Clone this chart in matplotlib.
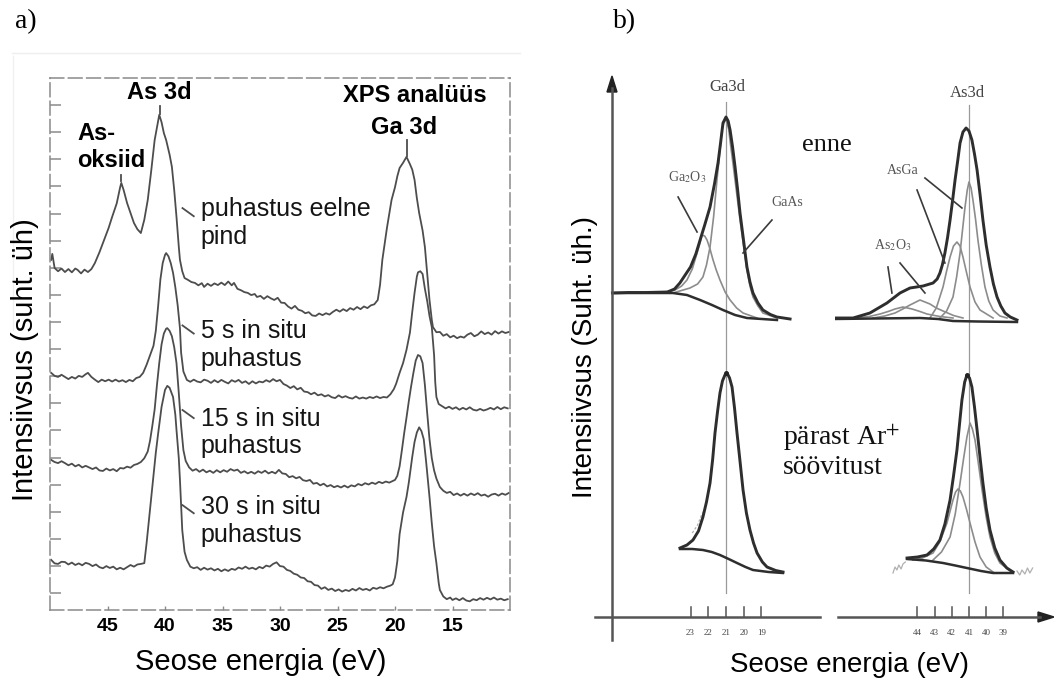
import matplotlib
matplotlib.use('Agg')
import matplotlib.pyplot as plt
from matplotlib.lines import Line2D

plt.rcParams['mathtext.fontset'] = 'stix'

W, H = 1054, 682
SANS = ['Liberation Sans', 'DejaVu Sans']
SERIF = ['Liberation Serif', 'DejaVu Serif']

# ---------------- panel a: XPS spectra, binding energy (eV) vs intensity (a.u.) ----------------
a_xticks = [45, 40, 35, 30, 25, 20, 15]
a_labels = ["puhastus eelne\npind", "5 s in situ\npuhastus", "15 s in situ\npuhastus", "30 s in situ\npuhastus"]

a_eelne = [(49.9, 129.2), (49.8, 131.4), (49.6, 126.2), (49.3, 125.0), (49.0, 126.0), (48.7, 124.7),
           (48.4, 125.8), (48.1, 124.6), (47.8, 126.0), (47.6, 125.5), (47.3, 124.2), (47.0, 125.6),
           (46.7, 124.7), (46.4, 125.8), (46.1, 128.0), (45.7, 132.0), (45.3, 136.5), (44.9, 141.0),
           (44.6, 145.0), (44.2, 150.0), (43.9, 156.0), (43.8, 157.6), (43.6, 155.0), (43.3, 150.2),
           (43.0, 146.5), (42.7, 142.8), (42.4, 140.5), (42.1, 139.1), (41.8, 144.0), (41.5, 151.3),
           (41.2, 162.0), (40.9, 173.4), (40.6, 180.5), (40.5, 182.7), (40.3, 180.0), (40.1, 176.0),
           (39.9, 173.4), (39.6, 168.0), (39.4, 163.5), (39.2, 155.0), (39.0, 145.0), (38.8, 134.0),
           (38.7, 129.2), (38.5, 125.0), (38.3, 122.5), (38.0, 121.8), (37.7, 121.0), (37.4, 120.7),
           (37.1, 119.8), (36.8, 120.6), (36.6, 119.2), (36.3, 120.4), (36.0, 119.6), (35.7, 120.5),
           (35.4, 119.9), (35.1, 120.8), (34.8, 119.9), (34.5, 121.2), (34.2, 119.8), (34.0, 120.7),
           (33.7, 118.5), (33.4, 118.0), (33.1, 117.3), (32.8, 117.0), (32.5, 116.2), (32.2, 116.6),
           (32.0, 115.5), (31.7, 115.9), (31.4, 114.8), (31.1, 115.8), (30.8, 115.0), (30.5, 114.4),
           (30.2, 115.2), (29.9, 113.4), (29.6, 113.3), (29.3, 112.0), (29.0, 111.2), (28.7, 112.2),
           (28.4, 110.8), (28.1, 110.4), (27.8, 109.5), (27.5, 109.9), (27.2, 108.7), (26.9, 108.5),
           (26.6, 109.4), (26.3, 108.8), (26.0, 109.5), (25.7, 109.0), (25.4, 110.0), (25.1, 110.8),
           (24.8, 110.1), (24.5, 111.0), (24.2, 110.3), (23.9, 111.4), (23.6, 110.8), (23.3, 111.8),
           (23.0, 111.0), (22.7, 112.0), (22.4, 111.4), (22.1, 112.4), (21.8, 112.8), (21.5, 114.4),
           (21.3, 120.0), (21.1, 129.2), (20.7, 141.0), (20.3, 151.3), (20.0, 156.0), (19.8, 160.0),
           (19.6, 163.1), (19.3, 165.0), (19.0, 167.2), (18.7, 164.5), (18.5, 162.5), (18.3, 158.7),
           (18.1, 152.0), (17.9, 146.5), (17.6, 140.0), (17.4, 133.9), (17.2, 124.0), (17.0, 114.4),
           (16.8, 107.0), (16.7, 104.4), (16.4, 102.5), (16.1, 102.6), (15.8, 101.2), (15.5, 101.8),
           (15.2, 100.6), (14.9, 101.2), (14.6, 100.3), (14.3, 100.9), (14.0, 100.5), (13.7, 101.6),
           (13.4, 102.2), (13.1, 101.0), (12.8, 101.6), (12.5, 102.8), (12.2, 101.8), (11.9, 102.4),
           (11.6, 101.6), (11.3, 102.9), (11.0, 102.0), (10.7, 102.8), (10.4, 102.2), (10.1, 102.6)]

a_5s = [(49.9, 87.5), (49.6, 86.4), (49.3, 86.0), (49.0, 86.8), (48.7, 86.0), (48.4, 85.2), (48.1, 86.0),
        (47.8, 85.4), (47.5, 86.4), (47.2, 86.0), (46.9, 87.0), (46.7, 87.5), (46.4, 86.0), (46.1, 85.0),
        (45.8, 84.1), (45.5, 85.0), (45.2, 84.4), (44.9, 85.0), (44.6, 84.3), (44.3, 85.0), (44.0, 84.3),
        (43.7, 84.8), (43.4, 84.1), (43.1, 84.9), (42.8, 84.4), (42.5, 85.6), (42.2, 86.0), (41.9, 87.5),
        (41.6, 90.5), (41.3, 94.0), (41.0, 97.5), (40.8, 103.0), (40.6, 112.0), (40.4, 122.0), (40.2, 128.0),
        (40.0, 131.0), (39.9, 131.7), (39.7, 130.5), (39.5, 128.0), (39.3, 124.4), (39.1, 119.0), (38.9, 112.5),
        (38.7, 104.0), (38.6, 95.0), (38.4, 88.0), (38.1, 84.9), (37.8, 84.2), (37.5, 85.0), (37.2, 84.3),
        (36.9, 84.0), (36.6, 85.0), (36.3, 84.6), (36.0, 83.8), (35.7, 84.8), (35.4, 84.0), (35.1, 84.9),
        (34.8, 84.2), (34.5, 83.6), (34.2, 84.8), (33.9, 84.2), (33.6, 84.9), (33.3, 83.8), (33.0, 84.4),
        (32.7, 83.4), (32.4, 84.4), (32.1, 83.6), (31.8, 84.3), (31.5, 84.0), (31.2, 84.8), (30.9, 84.2),
        (30.6, 85.2), (30.3, 84.4), (30.0, 84.9), (29.7, 83.4), (29.4, 82.8), (29.1, 81.9), (28.8, 82.6),
        (28.5, 81.4), (28.2, 82.0), (27.9, 80.6), (27.6, 80.4), (27.3, 79.6), (27.0, 80.2), (26.7, 79.2),
        (26.4, 79.6), (26.1, 78.8), (25.8, 79.3), (25.5, 78.5), (25.2, 78.2), (24.9, 79.2), (24.6, 78.4),
        (24.3, 78.9), (24.0, 78.3), (23.7, 78.0), (23.4, 78.8), (23.1, 78.0), (22.8, 78.4), (22.5, 78.0),
        (22.2, 78.6), (21.9, 78.2), (21.6, 78.8), (21.3, 78.2), (21.0, 78.6), (20.7, 78.4), (20.4, 79.6),
        (20.1, 81.5), (19.9, 83.5), (19.6, 87.5), (19.3, 91.1), (19.0, 96.0), (18.7, 102.4), (18.5, 110.0),
        (18.3, 117.0), (18.1, 123.0), (18.0, 124.6), (17.8, 125.0), (17.6, 124.0), (17.4, 118.5), (17.2, 114.0),
        (17.0, 108.5), (16.8, 104.4), (16.6, 94.0), (16.5, 84.0), (16.4, 78.6), (16.2, 76.0), (15.9, 75.2),
        (15.6, 74.4), (15.3, 75.0), (15.0, 74.2), (14.7, 74.8), (14.4, 73.9), (14.1, 74.6), (13.8, 74.0),
        (13.5, 74.8), (13.2, 73.9), (12.9, 73.6), (12.6, 74.2), (12.3, 73.6), (12.0, 74.0), (11.7, 74.6),
        (11.4, 74.0), (11.1, 74.9), (10.8, 74.1), (10.5, 74.8), (10.2, 74.4)]

a_15s = [(49.9, 55.4), (49.6, 54.6), (49.3, 54.2), (49.0, 54.9), (48.7, 54.2), (48.4, 53.4), (48.1, 54.0),
         (47.8, 53.0), (47.5, 53.6), (47.2, 52.6), (46.9, 53.2), (46.6, 52.6), (46.3, 52.0), (46.0, 52.6),
         (45.7, 51.5), (45.4, 51.3), (45.1, 52.2), (44.8, 51.5), (44.5, 52.0), (44.2, 51.2), (43.9, 52.4),
         (43.6, 52.2), (43.3, 52.9), (43.0, 52.5), (42.7, 53.5), (42.4, 53.9), (42.1, 54.6), (41.8, 56.0),
         (41.5, 58.5), (41.3, 62.5), (41.1, 68.0), (40.9, 74.0), (40.7, 83.0), (40.5, 91.1), (40.3, 98.0),
         (40.1, 102.0), (39.9, 103.8), (39.8, 104.0), (39.6, 103.0), (39.4, 101.0), (39.2, 97.0), (39.0, 91.1),
         (38.8, 80.0), (38.6, 68.0), (38.4, 59.0), (38.2, 55.0), (37.9, 52.6), (37.6, 51.4), (37.3, 52.0),
         (37.0, 51.0), (36.7, 51.8), (36.4, 50.8), (36.1, 51.4), (35.8, 50.6), (35.5, 51.6), (35.2, 50.8),
         (34.9, 51.6), (34.6, 51.0), (34.3, 52.0), (34.0, 51.4), (33.7, 51.8), (33.4, 50.6), (33.1, 51.2),
         (32.8, 50.4), (32.5, 51.0), (32.2, 50.3), (31.9, 51.2), (31.6, 50.6), (31.3, 51.4), (31.0, 50.4),
         (30.7, 51.0), (30.4, 50.4), (30.1, 51.7), (29.8, 50.4), (29.5, 50.2), (29.2, 49.0), (28.9, 49.4),
         (28.6, 48.6), (28.3, 49.1), (28.0, 47.9), (27.7, 47.6), (27.4, 48.0), (27.1, 46.6), (26.8, 46.9),
         (26.5, 46.0), (26.2, 46.6), (25.9, 45.6), (25.6, 46.1), (25.3, 45.3), (25.0, 45.8), (24.7, 45.2),
         (24.4, 45.9), (24.1, 45.2), (23.8, 46.0), (23.5, 45.6), (23.2, 46.5), (22.9, 46.0), (22.6, 46.8),
         (22.3, 46.3), (22.0, 47.0), (21.7, 46.5), (21.4, 47.3), (21.1, 46.8), (20.8, 47.4), (20.5, 47.0),
         (20.2, 47.6), (20.0, 48.0), (19.8, 49.5), (19.6, 53.0), (19.4, 59.0), (19.2, 65.3), (19.0, 71.0),
         (18.8, 77.0), (18.6, 82.5), (18.4, 87.5), (18.2, 92.0), (18.0, 94.1), (17.8, 93.6), (17.6, 91.1),
         (17.4, 83.0), (17.2, 72.7), (17.0, 63.0), (16.8, 56.0), (16.6, 51.5), (16.4, 48.5), (16.1, 45.4),
         (15.8, 44.0), (15.5, 43.2), (15.2, 43.6), (14.9, 42.4), (14.6, 43.0), (14.3, 42.2), (14.0, 42.9),
         (13.7, 42.2), (13.4, 43.0), (13.1, 42.4), (12.8, 43.1), (12.5, 42.2), (12.2, 42.6), (11.9, 41.8),
         (11.6, 42.6), (11.3, 42.9), (11.0, 42.2), (10.7, 43.0), (10.4, 42.5), (10.1, 43.2)]

a_30s = [(49.9, 18.5), (49.6, 17.2), (49.3, 17.0), (49.0, 17.8), (48.7, 17.7), (48.4, 16.8), (48.1, 17.5),
         (47.8, 16.6), (47.5, 17.2), (47.2, 16.5), (46.9, 17.4), (46.6, 17.0), (46.3, 16.2), (46.0, 16.8),
         (45.7, 15.8), (45.4, 15.4), (45.1, 16.2), (44.8, 15.5), (44.5, 16.0), (44.2, 15.0), (43.9, 15.6),
         (43.6, 15.0), (43.3, 15.8), (43.0, 16.6), (42.7, 16.0), (42.4, 16.8), (42.1, 17.0), (41.8, 17.3),
         (41.6, 24.7), (41.4, 33.0), (41.2, 41.7), (41.0, 50.0), (40.8, 58.0), (40.6, 65.0), (40.3, 74.9),
         (40.0, 81.2), (39.8, 82.7), (39.6, 82.0), (39.3, 78.6), (39.1, 72.0), (39.0, 66.4), (38.8, 56.0),
         (38.7, 48.0), (38.5, 29.5), (38.3, 21.5), (38.1, 18.5), (37.8, 16.0), (37.5, 15.4), (37.2, 15.8),
         (36.9, 14.8), (36.6, 15.6), (36.3, 14.9), (36.0, 15.4), (35.7, 14.6), (35.4, 15.2), (35.1, 14.3),
         (34.8, 15.0), (34.5, 14.4), (34.2, 15.2), (33.9, 14.8), (33.6, 15.7), (33.3, 15.2), (33.0, 16.0),
         (32.7, 15.2), (32.4, 15.6), (32.1, 15.0), (31.8, 15.9), (31.5, 15.4), (31.2, 16.4), (30.9, 16.0),
         (30.6, 17.0), (30.3, 17.6), (30.0, 16.2), (29.7, 16.0), (29.4, 14.8), (29.1, 14.4), (28.8, 13.4),
         (28.5, 13.0), (28.2, 12.0), (27.9, 11.8), (27.6, 10.6), (27.3, 10.4), (27.0, 9.2), (26.7, 9.0),
         (26.4, 7.8), (26.1, 8.4), (25.8, 7.4), (25.5, 7.9), (25.2, 7.0), (24.9, 7.6), (24.6, 6.8),
         (24.3, 7.4), (24.0, 7.0), (23.7, 7.8), (23.4, 7.2), (23.1, 8.1), (22.8, 7.4), (22.5, 7.8),
         (22.2, 7.2), (21.9, 8.2), (21.6, 7.8), (21.3, 8.4), (21.0, 8.0), (20.7, 8.6), (20.4, 9.0),
         (20.2, 9.5), (20.0, 12.0), (19.8, 18.0), (19.6, 28.0), (19.3, 36.0), (19.0, 41.7), (18.8, 47.0),
         (18.5, 56.5), (18.3, 62.0), (18.1, 65.5), (17.9, 67.4), (17.7, 66.0), (17.5, 63.0), (17.3, 55.0),
         (17.0, 41.7), (16.8, 32.0), (16.6, 23.5), (16.4, 17.3), (16.2, 10.0), (16.1, 7.4), (15.8, 5.0),
         (15.5, 4.0), (15.2, 4.6), (15.0, 3.7), (14.7, 4.3), (14.4, 3.6), (14.1, 4.4), (13.8, 3.5),
         (13.5, 3.2), (13.2, 4.0), (12.9, 3.6), (12.6, 4.4), (12.3, 3.8), (12.0, 4.5), (11.7, 3.9),
         (11.4, 4.6), (11.1, 3.8), (10.8, 4.2), (10.5, 3.6), (10.2, 4.0)]

# ---------------- panel b: fitted XPS peaks ----------------
b_ga_ticks = [23, 22, 21, 20, 19]
b_as_ticks = [44, 43, 42, 41, 40, 39]
b_ga_line = 21
b_as_line = 41

# "enne" (before) - Ga3d
ga_enne_env = [(27.4, 64.8), (26.5, 64.9), (25.5, 64.9), (24.3, 65.0), (23.9, 65.6), (23.6, 66.8), (23.3, 68.4),
               (23.0, 70.0), (22.7, 72.6), (22.46, 75.4), (22.2, 78.4), (21.9, 82.0), (21.65, 86.6), (21.45, 90.8),
               (21.3, 95.0), (21.17, 98.8), (21.0, 100.0), (20.88, 99.2), (20.77, 97.4), (20.63, 94.0), (20.49, 90.0),
               (20.35, 85.6), (20.21, 80.8), (20.0, 75.0), (19.82, 70.0), (19.65, 67.0), (19.48, 64.8), (19.2, 62.8),
               (18.92, 61.4), (18.5, 60.5), (18.13, 60.0), (17.39, 59.6)]
ga_enne_bg = [(27.25, 64.8), (25.0, 64.8), (23.99, 64.8), (23.2, 64.4), (22.46, 63.4), (21.79, 62.4), (21.17, 61.4),
              (20.49, 60.4), (19.82, 59.8), (18.13, 59.4)]
ga_enne_ga2o3 = [(24.72, 64.8), (23.87, 65.4), (23.5, 66.2), (23.2, 67.4), (22.9, 69.6), (22.63, 72.8), (22.45, 75.0),
                 (22.35, 76.4), (22.2, 76.2), (22.07, 75.4), (21.9, 73.6), (21.73, 71.4), (21.55, 69.4), (21.34, 67.4),
                 (21.05, 65.0), (20.77, 63.4), (20.4, 61.8), (20.04, 60.8), (19.25, 59.8)]
ga_enne_gaas = [(23.99, 64.8), (23.03, 65.8), (22.6, 66.6), (22.3, 68.0), (22.1, 70.4), (21.9, 74.0), (21.7, 80.0),
                (21.51, 87.4), (21.35, 93.0), (21.23, 97.4), (21.1, 99.2), (21.0, 99.4), (20.85, 97.6), (20.75, 94.6),
                (20.61, 90.8), (20.4, 84.8), (20.21, 79.4), (20.0, 74.0), (19.82, 69.4), (19.65, 66.2), (19.48, 64.0),
                (19.2, 62.2), (18.92, 60.8), (18.13, 59.8)]

# "enne" (before) - As3d
as_enne_env = [(48.91, 59.8), (47.74, 59.8), (46.76, 60.8), (45.77, 62.8), (45.01, 64.8), (44.43, 65.8), (43.67, 66.2),
               (43.09, 66.8), (42.85, 67.6), (42.69, 68.8), (42.55, 70.4), (42.40, 72.8), (42.25, 75.8), (42.10, 79.4),
               (41.95, 83.4), (41.81, 87.4), (41.65, 91.4), (41.52, 94.8), (41.35, 97.0), (41.17, 97.8), (41.0, 97.2),
               (40.83, 95.4), (40.68, 92.6), (40.53, 89.4), (40.36, 84.6), (40.19, 79.4), (40.0, 74.4), (39.78, 70.0),
               (39.58, 66.6), (39.37, 64.0), (39.15, 62.2), (38.91, 60.8), (38.6, 60.0), (38.21, 59.4)]
as_enne_bg = [(48.91, 59.6), (46.5, 59.7), (43.85, 59.8), (42.8, 59.6), (41.93, 59.2), (40.5, 59.1), (38.21, 59.0)]
as_enne_as2o3_a = [(47.74, 59.8), (46.8, 60.1), (46.17, 60.6), (45.7, 61.1), (45.30, 61.6), (44.84, 62.0), (44.31, 61.6),
                   (43.85, 61.1), (43.44, 60.6), (42.7, 60.1), (41.93, 59.8)]
as_enne_as2o3_b = [(46.58, 59.8), (45.9, 60.2), (45.30, 60.8), (44.85, 61.6), (44.43, 62.4), (43.85, 63.4), (43.27, 62.6),
                   (42.9, 61.8), (42.51, 61.2), (41.9, 60.3), (41.35, 59.8)]
as_enne_asga_s = [(43.27, 59.8), (42.9, 61.8), (42.51, 66.0), (42.30, 69.2), (42.10, 72.0), (41.9, 74.2), (41.70, 75.0),
                  (41.52, 74.2), (41.35, 72.0), (41.15, 69.0), (40.94, 66.0), (40.65, 63.0), (40.36, 61.4), (39.60, 59.8)]
as_enne_asga_b = [(42.69, 59.8), (42.3, 61.2), (41.93, 64.0), (41.72, 68.0), (41.52, 72.8), (41.37, 77.6), (41.23, 82.0),
                  (41.1, 85.4), (41.0, 87.0), (40.88, 85.8), (40.77, 83.4), (40.62, 79.6), (40.48, 75.4), (40.28, 70.4),
                  (40.07, 66.0), (39.85, 63.2), (39.60, 61.4), (39.2, 60.2), (38.79, 59.8)]
as_enne_raw = [(49.37, 60.2), (49.25, 59.4), (49.1, 60.6), (48.95, 59.8)]

# "pärast Ar+ söövitust" (after etching) - Ga3d
ga_after_env = [(23.59, 13.8), (23.2, 14.4), (22.86, 15.4), (22.55, 17.2), (22.30, 20.0), (22.1, 23.0), (21.90, 26.8),
                (21.75, 31.6), (21.62, 36.8), (21.48, 41.0), (21.34, 44.8), (21.2, 47.2), (21.06, 48.4), (20.94, 48.8),
                (20.8, 47.8), (20.66, 46.0), (20.52, 41.8), (20.38, 36.8), (20.2, 30.8), (20.04, 25.4), (19.85, 20.8),
                (19.65, 17.4), (19.45, 14.8), (19.25, 12.8), (18.95, 11.0), (18.69, 10.0), (18.2, 9.3), (17.79, 9.0)]
ga_after_bg = [(23.59, 13.6), (22.9, 13.6), (22.30, 13.4), (21.8, 13.0), (21.34, 12.4), (20.85, 11.6), (20.38, 10.8),
               (19.9, 10.0), (19.48, 9.4), (18.6, 9.0), (17.79, 8.8)]
ga_after_raw = [(22.9, 16.8), (22.75, 17.6), (22.6, 18.4), (22.4, 20.2), (22.25, 21.2)]

# "pärast Ar+ söövitust" (after etching) - As3d
as_after_env = [(44.60, 11.8), (44.0, 12.0), (43.44, 12.4), (43.05, 13.6), (42.69, 15.4), (42.4, 18.6), (42.10, 23.4),
                (41.90, 28.2), (41.70, 33.4), (41.55, 38.6), (41.41, 43.4), (41.25, 47.0), (41.12, 48.4), (40.97, 47.8),
                (40.83, 46.0), (40.68, 42.0), (40.53, 37.4), (40.36, 32.0), (40.19, 26.8), (40.0, 21.8), (39.78, 17.4),
                (39.5, 13.8), (39.20, 11.4), (38.8, 9.8), (38.44, 9.0)]
as_after_bg = [(44.60, 11.6), (43.5, 11.3), (42.51, 10.8), (41.8, 10.3), (41.12, 9.8), (40.3, 9.2), (39.60, 8.8),
               (38.44, 8.8)]
as_after_asga_b = [(43.09, 11.4), (42.6, 13.0), (42.10, 16.0), (41.8, 20.6), (41.52, 26.8), (41.3, 32.0), (41.12, 36.0),
                   (40.94, 38.8), (40.8, 37.6), (40.65, 35.4), (40.45, 30.6), (40.24, 25.4), (40.0, 20.0), (39.78, 16.0),
                   (39.5, 12.8), (39.20, 10.8), (38.44, 8.8)]
as_after_asga_s = [(44.26, 11.4), (43.7, 11.8), (43.09, 12.8), (42.7, 15.0), (42.28, 18.8), (41.93, 23.4), (41.78, 25.0),
                   (41.64, 25.6), (41.5, 25.2), (41.35, 24.0), (41.15, 21.6), (40.94, 18.8), (40.65, 15.0), (40.36, 12.0),
                   (40.0, 10.0), (39.60, 9.0)]
as_after_raw_l = [(45.42, 8.8), (45.3, 10.0), (45.19, 9.4), (45.08, 10.4), (44.95, 9.6), (44.84, 10.6), (44.70, 11.0)]
as_after_raw_r = [(38.21, 9.2), (38.05, 8.4), (37.92, 9.4), (37.75, 8.6), (37.6, 9.8), (37.46, 8.8), (37.3, 9.8)]


def xs(pts):
    return [p[0] for p in pts]


def ys(pts):
    return [p[1] for p in pts]


def fx(px):
    return px / W


def fy(py):
    return 1 - py / H


fig = plt.figure(figsize=(W / 100, H / 100), dpi=100)
fig.patch.set_facecolor('white')

# faint scan edges
fig.add_artist(Line2D([fx(12), fx(520)], [fy(53), fy(53)], color='#eeeeee', lw=1))
fig.add_artist(Line2D([fx(13), fx(13)], [fy(56), fy(330)], color='#f0f0f0', lw=1))

# ================= panel a =================
ax = fig.add_axes([fx(50), fy(610), fx(510) - fx(50), fy(78) - fy(610)])
ax.set_xlim(50, 10)
ax.set_ylim(0, 196.3)
curve_col = '#4d4d4d'
for pts in (a_eelne, a_5s, a_15s, a_30s):
    ax.plot(xs(pts), ys(pts), color=curve_col, lw=1.3, solid_joinstyle='round')

for side in ('top', 'right', 'bottom', 'left'):
    ax.spines[side].set_color('#8a8a8a')
    ax.spines[side].set_linewidth(1.1)
    ax.spines[side].set_linestyle((0, (9, 3)))
ax.set_xticks(a_xticks)
ax.set_xticklabels([str(t) for t in a_xticks], fontfamily=SANS, fontweight='bold', fontsize=14)
ax.set_yticks([6.27 + 10 * k for k in range(19)])
ax.set_yticklabels([])
ax.tick_params(axis='y', direction='in', length=8, width=1.1, color='#8a8a8a')
ax.tick_params(axis='x', direction='in', length=3, width=1.0, color='#8a8a8a', pad=6)

# small peak markers
ax.plot([43.8, 43.8], [158.3, 160.6], color=curve_col, lw=1.3)
ax.plot([40.45, 40.45], [183.0, 185.8], color=curve_col, lw=1.3)
ax.plot([19.0, 19.0], [167.5, 173.4], color=curve_col, lw=1.3)

# peak labels
ax.text(40.48, 191.1, "As 3d", fontfamily=SANS, fontweight='bold', fontsize=17, ha='center', va='center')
ax.text(18.3, 190.0, "XPS analüüs", fontfamily=SANS, fontweight='bold', fontsize=17, ha='center', va='center')
ax.text(19.17, 177.9, "Ga 3d", fontfamily=SANS, fontweight='bold', fontsize=17, ha='center', va='center')
ax.text(47.6, 170.8, "As-\noksiid", fontfamily=SANS, fontweight='bold', fontsize=17, ha='left', va='center',
        linespacing=1.25)

# curve labels with leader lines
label_pos = [(148.3, 142.8), (105.0, 97.8), (73.8, 65.5), (38.7, 32.8)]
for txt, (ly, ty) in zip(a_labels, label_pos):
    ax.plot([38.48, 37.5], [ly, ly - 3.0], color=curve_col, lw=1.3)
    ax.text(36.9, ty, txt, fontfamily=SANS, fontsize=18, ha='left', va='center', linespacing=1.2, color='#151515')

fig.text(fx(261), fy(662), "Seose energia (eV)", fontfamily=SANS, fontsize=21, ha='center', va='center')
fig.text(fx(25), fy(360), "Intensiivsus (suht. üh)", fontfamily=SANS, fontsize=21, ha='center', va='center',
         rotation=90)
fig.text(fx(26), fy(22), "a)", fontfamily=SERIF, fontsize=20, ha='center', va='center')
fig.text(fx(625), fy(22), "b)", fontfamily=SERIF, fontsize=20, ha='center', va='center')

# ================= panel b =================
YB = (-5.6, 109.4)
axg = fig.add_axes([fx(600), fy(645), fx(830) - fx(600), fy(70) - fy(645)])
axa = fig.add_axes([fx(835), fy(645), fx(1050) - fx(835), fy(70) - fy(645)])
axg.set_xlim(28.1, 15.14)
axa.set_xlim(48.79, 36.29)
for a in (axg, axa):
    a.set_ylim(*YB)
    a.axis('off')

env_col, env_lw = '#2e2e2e', 2.1
comp_col, comp_lw = '#8c8c8c', 1.2
ref_col = '#9a9a9a'

# reference lines
axg.plot([b_ga_line, b_ga_line], [4.8, 103.0], color=ref_col, lw=0.9)
axa.plot([b_as_line, b_as_line], [4.8, 102.4], color=ref_col, lw=0.9)

# components and envelopes
for pts in (ga_enne_ga2o3, ga_enne_gaas):
    axg.plot(xs(pts), ys(pts), color=comp_col, lw=comp_lw)
for pts in (as_enne_as2o3_a, as_enne_as2o3_b, as_enne_asga_s, as_enne_asga_b, as_after_asga_b, as_after_asga_s):
    axa.plot(xs(pts), ys(pts), color=comp_col, lw=comp_lw)
for pts in (as_enne_raw, as_after_raw_l, as_after_raw_r):
    axa.plot(xs(pts), ys(pts), color='#b0b0b0', lw=0.9)
axg.plot(xs(ga_after_raw), ys(ga_after_raw), color='#b0b0b0', lw=0.9, ls=(0, (2, 1.5)))
for pts in (ga_enne_bg, ga_after_bg):
    axg.plot(xs(pts), ys(pts), color=env_col, lw=1.8)
for pts in (as_enne_bg, as_after_bg):
    axa.plot(xs(pts), ys(pts), color=env_col, lw=1.8)
for pts in (ga_enne_env, ga_after_env):
    axg.plot(xs(pts), ys(pts), color=env_col, lw=env_lw, solid_joinstyle='round')
for pts in (as_enne_env, as_after_env):
    axa.plot(xs(pts), ys(pts), color=env_col, lw=env_lw, solid_joinstyle='round')

# peak dots
axg.plot([21.0], [48.9], 'o', color='#222222', ms=2.5)
axa.plot([41.12], [48.5], 'o', color='#222222', ms=2.5)

# ticks on energy axis
tick_col = '#555555'
for t in b_ga_ticks:
    axg.plot([t, t], [0, 2.0], color=tick_col, lw=1.1)
    axg.text(t, -3.2, str(t), fontfamily=SERIF, fontsize=6.5, ha='center', va='center', color='#444444')
for t in b_as_ticks:
    axa.plot([t, t], [0, 2.0], color=tick_col, lw=1.1)
    axa.text(t, -3.2, str(t), fontfamily=SERIF, fontsize=6.5, ha='center', va='center', color='#444444')

# component labels and leaders
lab_kw = dict(fontfamily=SERIF, fontsize=10, ha='center', va='center', color='#555555')
axg.text(23.2, 88.0, "Ga$_2$O$_3$", **lab_kw)
axg.plot([23.70, 22.63], [84.0, 77.0], color='#3a3a3a', lw=1.2)
axg.text(17.56, 82.8, "GaAs", **lab_kw)
axg.plot([18.41, 20.04], [79.4, 72.8], color='#3a3a3a', lw=1.2)
axa.text(44.84, 89.4, "AsGa", **lab_kw)
axa.plot([44.02, 42.40], [85.4, 70.8], color='#3a3a3a', lw=1.2)
axa.plot([43.56, 41.41], [87.8, 81.8], color='#3a3a3a', lw=1.2)
axa.text(45.42, 74.4, "As$_2$O$_3$", **lab_kw)
axa.plot([45.71, 45.48], [70.0, 64.8], color='#3a3a3a', lw=1.2)
axa.plot([45.01, 43.56], [70.8, 64.8], color='#3a3a3a', lw=1.2)
axg.text(20.94, 106.0, "Ga3d", fontfamily=SERIF, fontsize=12, ha='center', va='center', color='#444444')
axa.text(41.12, 104.8, "As3d", fontfamily=SERIF, fontsize=12, ha='center', va='center', color='#444444')

fig.text(fx(827), fy(145), "enne", fontfamily=SERIF, fontsize=19, ha='center', va='center', color='#111111')
fig.text(fx(783), fy(451), "pärast Ar$^{+}$\nsöövitust", fontfamily=SERIF, fontsize=20, ha='left', va='center',
         linespacing=1.15, color='#111111')

# axis lines / arrows of panel b
axis_col = '#555555'
fig.add_artist(Line2D([fx(595), fx(820)], [fy(617), fy(617)], color=axis_col, lw=1.8))
fig.add_artist(Line2D([fx(838), fx(1040)], [fy(617), fy(617)], color=axis_col, lw=1.8))
fig.add_artist(Line2D([fx(612), fx(612)], [fy(640), fy(88)], color=axis_col, lw=1.8))
fig.patches.append(plt.Polygon([[fx(1054), fy(617)], [fx(1038), fy(612)], [fx(1038), fy(622)]],
                               closed=True, color='#222222', transform=fig.transFigure, figure=fig))
fig.patches.append(plt.Polygon([[fx(612), fy(76)], [fx(607), fy(92)], [fx(617), fy(92)]],
                               closed=True, color='#222222', transform=fig.transFigure, figure=fig))

fig.text(fx(850), fy(665), "Seose energia (eV)", fontfamily=SANS, fontsize=20, ha='center', va='center')
fig.text(fx(585), fy(357), "Intensiivsus (Suht. üh.)", fontfamily=SANS, fontsize=20, ha='center', va='center',
         rotation=90)

fig.savefig('out.png', dpi=100, facecolor='white')
